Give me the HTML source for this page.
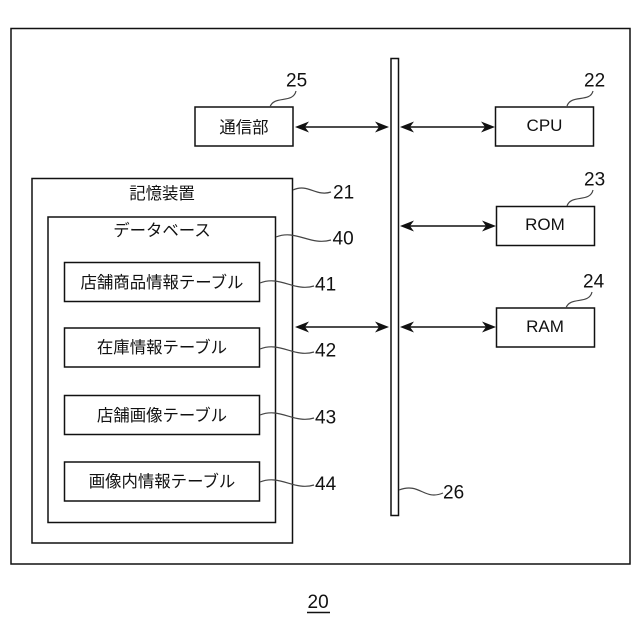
<!DOCTYPE html>
<html lang="ja">
<head>
<meta charset="utf-8">
<style>
html,body{margin:0;padding:0;background:#fff;}
svg{display:block;}
text{font-family:"Liberation Sans","Noto Sans CJK JP",sans-serif;fill:#111;}
.n{font-size:19px;}
.j{font-size:16.4px;text-anchor:middle;}
.l{font-size:17px;text-anchor:middle;}
</style>
</head>
<body>
<svg width="640" height="640" viewBox="0 0 640 640" xmlns="http://www.w3.org/2000/svg">
<defs>
<path id="h" d="M0 0L14 -5.500L10 0L14 5.500Z" fill="#111"/>
</defs>
<g fill="#fff" stroke="#111" stroke-width="1.5">
<rect x="11" y="28.500" width="619" height="535.500"/>
<rect x="391" y="58.500" width="7.500" height="457"/>
<rect x="195" y="107" width="98" height="39"/>
<rect x="495.500" y="107" width="98" height="39"/>
<rect x="496.500" y="206.500" width="98" height="39"/>
<rect x="496.500" y="308" width="98" height="39"/>
<rect x="32" y="178.500" width="260.500" height="364.500"/>
<rect x="48" y="217" width="227.500" height="305.500"/>
<rect x="64.500" y="262.500" width="195" height="39"/>
<rect x="64.500" y="328" width="195" height="39"/>
<rect x="64.500" y="395.500" width="195" height="39"/>
<rect x="64.500" y="462" width="195" height="39"/>
</g>

<g stroke="#111" stroke-width="1.5" fill="none">
<path d="M298 127H386"/>
<path d="M404 127H492"/>
<path d="M404 226H493"/>
<path d="M298 327H386"/>
<path d="M404 327H493"/>
</g>
<g>
<use href="#h" transform="translate(295 127)"/>
<use href="#h" transform="translate(389 127) rotate(180)"/>
<use href="#h" transform="translate(400 127)"/>
<use href="#h" transform="translate(495 127) rotate(180)"/>
<use href="#h" transform="translate(400 226)"/>
<use href="#h" transform="translate(496 226) rotate(180)"/>
<use href="#h" transform="translate(295 327)"/>
<use href="#h" transform="translate(389 327) rotate(180)"/>
<use href="#h" transform="translate(400 327)"/>
<use href="#h" transform="translate(496 327) rotate(180)"/>
</g>

<g stroke="#444" stroke-width="1.2" fill="none">
<path d="M270 107C274 95 293 104 296 91"/>
<path d="M567 106C571 94 590 103 593 91"/>
<path d="M567 206C571 194 590 203 593 190"/>
<path d="M566 308C570 296 589 305 592 292"/>
<path d="M293 190C308 183 316 197 331 192"/>
<path d="M276 237C296 229 310 246 331 240"/>
<path d="M260 283C280 275 294 292 314 286"/>
<path d="M260 349C280 341 294 358 314 352"/>
<path d="M260 415C280 407 294 424 314 418"/>
<path d="M260 482C280 474 294 491 314 485"/>
<path d="M399 490C420 482 424 501 443 493"/>
</g>

<text class="n" x="286" y="86.500">25</text>
<text class="n" x="584" y="86.500">22</text>
<text class="n" x="584" y="185.500">23</text>
<text class="n" x="583" y="287.500">24</text>
<text class="n" x="333" y="198.500">21</text>
<text class="n" x="332.500" y="244.500">40</text>
<text class="n" x="315" y="290.500">41</text>
<text class="n" x="315" y="356.500">42</text>
<text class="n" x="315" y="423.500">43</text>
<text class="n" x="315" y="490">44</text>
<text class="n" x="443" y="498.500">26</text>
<text class="n" x="307.500" y="608">20</text>
<path d="M307 612.500H330" stroke="#111" stroke-width="1.5"/>

<text class="j" x="244" y="133">通信部</text>
<text class="l" x="544.500" y="131">CPU</text>
<text class="l" x="545" y="230">ROM</text>
<text class="l" x="545" y="332">RAM</text>
<text class="j" x="162" y="199">記憶装置</text>
<text class="j" x="162" y="236">データベース</text>
<text class="j" x="162" y="288">店舗商品情報テーブル</text>
<text class="j" x="162" y="353">在庫情報テーブル</text>
<text class="j" x="162" y="421">店舗画像テーブル</text>
<text class="j" x="162" y="487">画像内情報テーブル</text>
</svg>
</body>
</html>
